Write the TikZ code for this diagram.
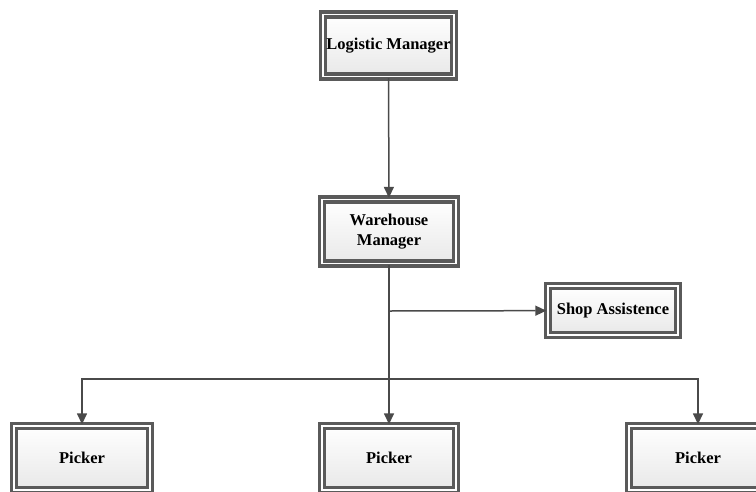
\documentclass[tikz,border=0pt]{standalone}
\usepackage{fontspec}
\setmainfont{Liberation Serif}
\usepackage[dvipsnames]{xcolor}
\definecolor{edge}{HTML}{4A4A4A}
\definecolor{frame}{HTML}{5A5A5A}
\definecolor{soft}{HTML}{E8E8E8}
\usepackage{tikz}
\usetikzlibrary{arrows.meta,positioning,shadows}
\tikzset{
  >={Triangle[length=11pt,width=10pt]},
  box/.style={draw=frame,double=white,double distance=1.8pt,line width=3.4pt,
    top color=white,bottom color=soft,
    drop shadow={shadow xshift=1.5pt,shadow yshift=-1.5pt,opacity=0.07},
    minimum width=131pt,minimum height=62pt,inner sep=2pt,align=center,
    font=\fontsize{16.5}{20}\selectfont\bfseries},
  arr/.style={->,draw=edge,line width=1.5pt},
}
\begin{document}
\begin{tikzpicture}[x=1pt,y=-1pt]
\useasboundingbox (0,0) rectangle (756,491);
\node[box] (log) at (388.5,45.5) {Logistic Manager};
\node[box,minimum width=134pt,minimum height=64pt] (wh) at (389,231.5) {Warehouse\\Manager};
\node[box,minimum width=130pt,minimum height=49pt] (shop) at (613,310.5) {Shop Assistence};
\node[box,minimum width=136pt,minimum height=64pt] (lpick) at (82,458) {Picker};
\node[box,minimum width=134pt,minimum height=64pt] (mpick) at (389,458) {Picker};
\node[box,minimum width=138pt,minimum height=64pt] (rpick) at (698,458) {Picker};
\coordinate (jshop) at (389,311);
\coordinate (jbar) at (389,379);
\draw[arr] (log) -- (wh);
\draw[arr] (wh) -- (mpick);
\draw[arr] (jshop) -- (shop);
\draw[arr] (jbar) -| (lpick);
\draw[arr] (jbar) -| (rpick);
\end{tikzpicture}
\end{document}
